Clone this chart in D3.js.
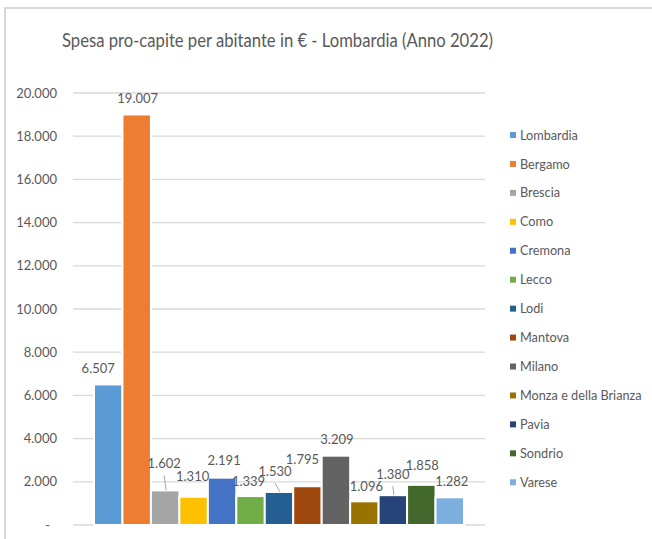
<!DOCTYPE html>
<html>
<head>
<meta charset="utf-8">
<script src="https://cdn.jsdelivr.net/npm/d3@7"></script>
<style>
  body { margin: 0; background: #fff; }
  svg { display: block; font-family: Lato, "Open Sans", sans-serif; }
</style>
</head>
<body>
<svg id="chart"></svg>
<script>
const provinces = ["Lombardia", "Bergamo", "Brescia", "Como", "Cremona", "Lecco", "Lodi",
  "Mantova", "Milano", "Monza e della Brianza", "Pavia", "Sondrio", "Varese"];
const spesa = [6507, 19007, 1602, 1310, 2191, 1339, 1530, 1795, 3209, 1096, 1380, 1858, 1282];
const colors = ["#5B9BD5", "#ED7D31", "#A5A5A5", "#FFC000", "#4472C4", "#70AD47", "#255E91",
  "#9E480E", "#636363", "#997300", "#264478", "#43682B", "#7CAFDD"];
const yTicks = [0, 2000, 4000, 6000, 8000, 10000, 12000, 14000, 16000, 18000, 20000];
const title = "Spesa pro-capite per abitante in €  - Lombardia (Anno 2022)";

// label nudges (px) as placed by hand in the original, plus the ones with leader lines
const labelNudge = [[-10, 0], [1, 0], [-1, -10.5], [-1, -3.5], [2, -0.5], [-2, 2], [-4, -4.5],
  [-5, -10.5], [1, 0], [2, 1], [0, -4.5], [1, -3.5], [2, 1]];
const leaderLines = ["Brescia", "Lodi", "Pavia"];

const width = 652, height = 539;
const svg = d3.select('#chart').attr('width', width).attr('height', height);

const it = d3.formatLocale({ decimal: ",", thousands: ".", grouping: [3], currency: ["€", ""] });
const fmt = it.format(",d");

// chart frame (only top and left edges are inside the crop)
svg.append('rect')
  .attr('x', 5).attr('y', 8)
  .attr('width', 800).attr('height', 700)
  .attr('fill', 'none')
  .attr('stroke', '#d9d9d9')
  .attr('stroke-width', 2);

// title is Calibri Light in the original, squeeze to its width
svg.append('text')
  .attr('x', 62).attr('y', 47)
  .attr('fill', '#595959')
  .attr('textLength', 431)
  .attr('lengthAdjust', 'spacingAndGlyphs')
  .style('font-family', 'Lato, sans-serif')
  .style('font-size', '18.5px')
  .text(title);

const y = d3.scaleLinear().domain([0, 20000]).range([525, 93]);
const x = d3.scaleBand().domain(provinces).range([73, 485]).paddingInner(0).paddingOuter(0.738);

// gridlines
svg.append('g')
  .selectAll('line')
  .data(yTicks)
  .enter()
  .append('line')
  .attr('x1', 73).attr('x2', 485)
  .attr('y1', d => y(d)).attr('y2', d => y(d))
  .attr('stroke', '#d9d9d9')
  .attr('stroke-width', 1.3);

const yAxis = svg.append('g')
  .attr('transform', 'translate(73,0)')
  .call(d3.axisLeft(y).tickValues(yTicks).tickSize(0).tickPadding(16)
    .tickFormat(d => d === 0 ? '-' : fmt(d)));
yAxis.select('.domain').remove();
yAxis.selectAll('text')
  .attr('fill', '#595959')
  .style('font-family', 'Lato, sans-serif')
  .style('font-size', '13px')
  .attr('dx', d => d === 0 ? -7 : 0);

// bars
svg.append('g')
  .selectAll('rect')
  .data(provinces)
  .enter()
  .append('rect')
  .attr('x', d => x(d))
  .attr('y', (d, i) => y(spesa[i]))
  .attr('width', x.bandwidth())
  .attr('height', (d, i) => y(0) - y(spesa[i]))
  .attr('fill', (d, i) => colors[i])
  .attr('stroke', '#fff')
  .attr('stroke-width', 2);

// leader lines
svg.append('g')
  .selectAll('line')
  .data(provinces.filter(p => leaderLines.includes(p)))
  .enter()
  .append('line')
  .attr('x1', d => x(d) + x.bandwidth() / 2 + labelNudge[provinces.indexOf(d)][0])
  .attr('y1', d => y(spesa[provinces.indexOf(d)]) - 16.5 + labelNudge[provinces.indexOf(d)][1] + 12)
  .attr('x2', d => x(d) + x.bandwidth() / 2 + 1)
  .attr('y2', d => y(spesa[provinces.indexOf(d)]))
  .attr('stroke', '#a6a6a6')
  .attr('stroke-width', 1);

// value labels
svg.append('g')
  .selectAll('text')
  .data(provinces)
  .enter()
  .append('text')
  .attr('x', (d, i) => x(d) + x.bandwidth() / 2 + labelNudge[i][0])
  .attr('y', (d, i) => y(spesa[i]) - 16.5 + labelNudge[i][1])
  .attr('dy', '0.36em')
  .attr('text-anchor', 'middle')
  .attr('fill', '#595959')
  .style('font-size', '13px')
  .text((d, i) => fmt(spesa[i]));

// legend
const legend = svg.append('g')
  .selectAll('g')
  .data(provinces)
  .enter()
  .append('g')
  .attr('transform', (d, i) => `translate(510, ${135 + i * 28.94})`);

legend.append('rect')
  .attr('x', 0).attr('y', -3)
  .attr('width', 6).attr('height', 6)
  .attr('fill', (d, i) => colors[i]);

legend.append('text')
  .attr('x', 10)
  .attr('dy', '0.36em')
  .attr('fill', '#595959')
  .style('font-size', '12.7px')
  .text(d => d);
</script>
</body>
</html>
